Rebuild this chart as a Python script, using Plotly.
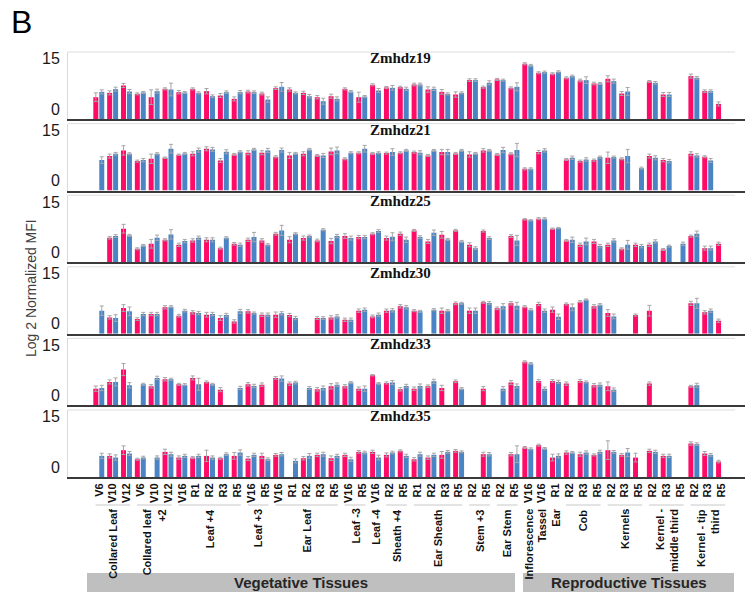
import plotly.graph_objects as go

# ---- categories -------------------------------------------------------------
stages = ["V6", "V10", "V12", "V6", "V10", "V12",
          "V16", "R1", "R2", "R3", "R5", "V16", "R5",
          "V16", "R1", "R2", "R3", "R5", "V16", "R5", "V16",
          "R2", "R5", "R1", "R2", "R3", "R5", "R2", "R5", "R2", "R5",
          "V16", "V16", "R1", "R2", "R3", "R5", "R2", "R3", "R5",
          "R2", "R3", "R5", "R2", "R3", "R5"]

# tissue groups: (label, first index, last index)
tissues = [("Collared Leaf", 0, 2), ("Collared leaf<br>+2", 3, 5),
           ("Leaf +4", 6, 10), ("Leaf +3", 11, 12), ("Ear Leaf", 13, 17),
           ("Leaf -3", 18, 19), ("Leaf -4", 20, 20), ("Sheath +4", 21, 22),
           ("Ear Sheath", 23, 26), ("Stem +3", 27, 28), ("Ear Stem", 29, 30),
           ("Inflorescence", 31, 31), ("Tassel", 32, 32), ("Ear", 33, 33),
           ("Cob", 34, 36), ("Kernels", 37, 39),
           ("Kernel -<br>middle third", 40, 42), ("Kernel - tip<br>third", 43, 45)]

genes = ["Zmhdz19", "Zmhdz21", "Zmhdz25", "Zmhdz30", "Zmhdz33", "Zmhdz35"]
N = None

# ---- log2 normalized MFI, series A (pink) and B (blue) ----------------------
zmhdz19_a = [6.5, 7.8, 10.0, 7.5, 6.5, 9.0, 8.0, 9.0, 8.3, 7.0, 6.0, 8.2, 7.6, 9.2, 8.8, 7.8,
             6.5, 6.8, 9.0, 6.5, 10.2, 9.4, 9.5, 10.3, 8.8, 8.1, 7.3, 11.6, 9.5, 11.8, 9.3,
             16.5, 13.8, 13.5, 12.3, 11.5, 10.6, 12.0, 7.6, N, 11.2, 7.3, N, 12.8, 8.3, 4.5]
zmhdz19_b = [8.1, 8.9, 8.2, 7.9, 8.3, 8.8, 7.9, 7.8, 6.8, 8.0, 8.0, 8.0, 5.8, 9.6, 7.8, 6.8,
             5.3, 6.0, 8.2, 6.7, 8.5, 9.3, 9.0, 10.3, 9.0, 7.5, 7.8, 11.6, 10.8, 11.6, 9.6,
             16.0, 14.0, 14.1, 12.8, 11.6, 10.6, 11.3, 8.2, N, 10.8, 7.3, N, 12.3, 8.3, N]

zmhdz21_a = [N, 10.3, 12.0, 8.8, 9.5, 9.8, 10.7, 11.0, 12.5, 9.0, 10.8, 11.3, 11.3, 10.1, 10.5, 11.0,
             10.5, 11.7, 9.5, 11.3, 11.1, 11.2, 11.3, 11.5, 10.5, 11.5, 11.1, 10.8, 12.0, 10.8, 11.0,
             6.5, 11.5, N, 9.3, 8.8, 9.1, 9.8, 9.5, N, 10.3, 9.1, N, 11.0, 10.1, N]
zmhdz21_b = [9.1, 11.0, 11.0, 9.1, 11.0, 12.5, 11.1, 12.1, 12.3, 11.6, 11.6, 12.3, 12.0, 12.1, 11.1, 12.3,
             10.5, 12.0, 11.3, 12.5, 11.3, 11.5, 12.0, 11.3, 12.0, 11.5, 12.0, 11.1, 12.0, 12.1, 12.1,
             6.5, 12.0, N, 9.8, 9.3, 10.0, 10.0, 10.3, 6.7, 9.8, 8.8, N, 10.5, 9.0, N]

zmhdz25_a = [N, 7.3, 10.0, 4.0, 5.5, 6.7, 5.2, 6.5, 6.7, 4.2, 5.5, 6.7, 6.5, 8.5, 6.7, 7.2,
             6.5, 6.3, 7.8, 7.5, 8.5, 7.2, 8.5, 9.5, 6.2, 8.2, 9.5, 5.2, 9.3, N, 7.8,
             12.8, 13.0, 10.0, 6.5, 5.2, 6.2, 5.2, 4.0, 5.2, 5.2, 3.8, N, 7.8, 4.2, 5.5]
zmhdz25_b = [N, 7.8, 8.0, 5.0, 7.3, 8.3, 6.3, 7.3, 6.7, 7.3, 5.2, 7.5, 5.2, 9.5, 8.5, 7.8,
             9.7, 7.8, 7.2, 7.5, 9.3, 7.6, 6.7, 7.5, 8.8, 6.8, 6.2, 4.2, 7.2, N, 6.5,
             12.5, 13.0, 10.2, 6.7, 6.2, 4.8, 6.5, 5.2, 4.8, 6.2, 4.8, 5.5, 8.5, 4.2, N]

zmhdz30_a = [N, 4.9, 7.7, 4.4, 5.9, 7.9, 5.4, 6.4, 5.7, 4.7, 3.7, 6.7, 5.7, 5.7, 5.6, N,
             4.7, 4.9, 4.2, 6.9, 5.2, 6.9, 8.2, 6.9, N, 6.9, 9.1, 6.9, 9.4, 7.6, 9.1,
             8.1, 8.9, 7.2, 8.9, 9.6, 8.2, 6.2, N, 5.6, 6.9, N, N, 9.1, 6.4, 3.9]
zmhdz30_b = [6.9, 4.7, 6.7, 5.9, 5.9, 8.1, 6.9, 6.2, 5.9, 5.6, 6.7, 6.2, 5.7, 6.1, 4.7, N,
             4.7, 5.2, 4.2, 7.2, 5.7, 7.0, 7.9, 6.7, 7.2, 6.9, 9.1, 6.9, 9.2, 8.2, 8.4,
             7.2, 6.9, 5.1, 7.9, 10.2, 8.7, 5.2, N, N, N, N, N, 9.1, 6.9, N]

zmhdz33_a = [5.0, 7.0, 10.7, N, 5.7, 7.8, 6.3, 8.2, 7.0, 4.7, N, 6.3, 6.2, 8.2, 6.5, N,
             4.8, 5.7, 5.7, 5.0, 9.0, 6.7, 4.8, 5.0, 5.7, 5.2, 7.2, N, 5.0, N, 6.8,
             13.0, 7.3, 7.3, 6.5, 7.3, 6.0, 5.7, N, N, 6.5, N, N, 5.7, N, N]
zmhdz33_b = [5.2, 7.0, 6.0, 6.3, 8.2, 7.8, 6.2, 6.3, 6.3, N, 5.2, 5.8, N, 8.0, 6.8, 5.2,
             5.2, 6.2, 6.8, 5.0, 6.5, 6.8, 5.8, 5.8, 7.2, N, 5.0, N, N, 5.0, 5.8,
             12.5, 5.0, 7.0, N, 7.0, 6.2, 4.7, N, N, N, N, N, 6.0, N, N]

zmhdz35_a = [N, 6.3, 8.0, 5.3, N, 7.5, 5.8, 5.8, 6.3, 5.6, 6.3, 5.5, 6.3, 6.6, N, 5.6,
             6.6, 5.6, 6.6, 7.5, 7.5, 6.6, 7.8, 5.3, 5.8, 6.6, 7.8, N, 6.8, N, 6.8,
             8.8, 9.5, 5.8, 7.3, 6.8, 6.6, 8.0, 6.6, 5.8, 7.8, 6.3, N, 10.0, 7.0, 4.6]
zmhdz35_b = [6.3, 5.8, 7.0, 5.8, 5.8, 6.8, 6.3, 6.3, 5.8, 6.8, 7.3, 6.6, 5.3, 6.8, 4.8, 6.3,
             6.8, 6.3, 5.3, 7.3, 5.8, 7.3, 6.3, 6.8, 6.6, 7.5, 7.5, N, 6.8, N, 6.8,
             8.4, 8.5, 6.3, 7.3, 7.3, 7.5, 7.5, 7.3, N, 7.5, 6.3, N, 9.8, 6.6, N]

# ---- error (same units) -------------------------------------------------------
zmhdz19_a_err = [1.3, 0.6, 0.6, 0.3, 2.2, 0.3, 0.5, 0.3, 0.8, 0.6, 0.6, 0.4, 0.4, 0.4, 0.5, 0.5,
                 0.5, 0.6, 0.3, 1.5, 0.3, 0.3, 0.3, 0.4, 0.8, 0.7, 0.8, 0.4, 0.3, 0.3, 0.3,
                 0.3, 0.3, 0.3, 0.3, 0.4, 0.4, 0.9, 0.6, N, 0.3, 0.6, N, 0.6, 0.4, 0.6]
zmhdz19_b_err = [0.6, 0.6, 0.6, 0.3, 0.6, 1.9, 0.3, 0.3, 0.4, 0.4, 0.5, 0.4, 0.8, 1.3, 0.3, 0.5,
                 0.9, 0.6, 0.3, 0.3, 0.6, 0.7, 0.5, 0.4, 0.5, 0.3, 0.3, 0.4, 0.6, 0.3, 1.2,
                 0.3, 0.3, 0.3, 0.3, 1.0, 0.3, 0.6, 1.2, N, 0.4, 0.6, N, 0.4, 0.4, N]
zmhdz21_a_err = [N, 0.6, 1.4, 0.3, 1.4, 0.2, 0.2, 0.6, 0.6, 0.6, 0.3, 0.6, 0.6, 0.3, 0.9, 0.6,
                 0.3, 1.0, 0.3, 0.3, 0.3, 0.3, 0.3, 0.3, 0.3, 0.8, 0.3, 0.8, 0.5, 0.3, 0.3,
                 0.3, 0.5, N, 0.3, 0.3, 0.3, 1.7, 0.3, N, 0.6, 0.5, N, 0.6, 0.3, N]
zmhdz21_b_err = [1.0, 0.4, 0.3, 0.5, 0.3, 1.3, 0.3, 0.6, 0.6, 0.6, 0.3, 0.3, 0.6, 0.6, 0.3, 0.3,
                 0.6, 1.0, 0.3, 1.0, 0.3, 1.0, 0.3, 0.6, 0.3, 0.8, 0.3, 0.3, 0.3, 0.8, 2.0,
                 0.3, 0.5, N, 0.5, 0.5, 0.3, 0.3, 2.0, 0.3, 0.6, 0.5, N, 0.5, 0.6, N]
zmhdz25_a_err = [N, 0.4, 1.3, 0.3, 1.3, 0.3, 0.5, 0.5, 0.6, 0.3, 0.4, 0.5, 0.5, 0.4, 0.9, 0.6,
                 0.4, 0.8, 0.7, 0.5, 0.3, 0.6, 0.5, 0.3, 0.6, 1.0, 0.3, 0.6, 0.3, N, 0.4,
                 0.2, 0.3, 0.2, 0.3, 0.5, 0.6, 0.5, 0.3, 0.5, 0.5, 0.3, N, 0.3, 0.6, 0.5]
zmhdz25_b_err = [N, 0.4, 0.3, 0.3, 0.8, 1.4, 0.5, 0.5, 0.6, 0.3, 0.5, 1.4, 0.3, 1.5, 0.3, 0.3,
                 0.3, 0.5, 0.6, 0.5, 0.4, 1.2, 0.8, 0.4, 0.8, 0.3, 0.3, 0.4, 0.4, N, 1.5,
                 0.2, 0.3, 0.2, 0.8, 1.0, 0.5, 0.5, 1.3, 0.5, 0.5, 0.3, 0.5, 0.8, 0.6, N]
zmhdz30_a_err = [N, 0.5, 1.0, 0.4, 0.5, 0.5, 0.4, 0.5, 0.7, 0.7, 0.5, 0.5, 0.5, 0.8, 0.5, N,
                 0.4, 0.5, 0.5, 0.5, 0.4, 0.5, 0.5, 0.3, N, 0.8, 0.4, 0.8, 0.3, 0.4, 0.5,
                 0.3, 0.5, 0.8, 0.3, 0.3, 0.5, 1.0, N, 0.3, 1.6, N, N, 0.6, 0.5, 0.5]
zmhdz30_b_err = [1.4, 1.0, 1.3, 0.5, 0.5, 0.3, 0.4, 0.5, 0.5, 0.5, 0.6, 0.3, 0.5, 0.5, 0.5, N,
                 0.4, 0.5, 0.5, 0.5, 0.5, 0.5, 0.5, 0.3, 0.3, 0.3, 0.3, 0.8, 0.4, 0.8, 1.0,
                 0.3, 0.5, 0.8, 1.0, 0.2, 0.3, 0.7, N, N, N, N, N, 1.5, 0.5, N]
zmhdz33_a_err = [0.8, 0.6, 1.8, N, 0.5, 0.5, 0.3, 0.6, 0.3, 0.6, N, 0.5, 0.5, 0.4, 0.5, N,
                 0.5, 0.8, 0.5, 0.5, 0.2, 0.3, 0.5, 0.5, 0.4, 0.8, 0.4, N, 0.6, N, 0.6,
                 0.3, 0.4, 0.4, 0.5, 0.4, 0.5, 1.3, N, N, 0.5, N, N, 0.3, N, N]
zmhdz33_b_err = [0.8, 1.2, 0.8, 0.3, 0.5, 0.3, 0.3, 1.8, 0.3, N, 0.5, 0.5, N, 0.8, 0.4, 0.4,
                 0.6, 0.5, 0.3, 0.8, 0.3, 0.6, 0.5, 0.6, 0.6, N, 0.3, N, N, 0.6, 0.6,
                 0.3, 0.5, 0.5, N, 0.3, 0.5, 0.5, N, N, N, N, N, 0.6, N, N]
zmhdz35_a_err = [N, 0.6, 1.3, 0.3, N, 0.8, 0.5, 0.3, 1.7, 0.3, 1.0, 0.6, 0.8, 0.4, N, 0.5,
                 0.5, 0.7, 0.5, 0.4, 0.5, 0.6, 0.3, 0.5, 0.5, 1.0, 0.4, N, 0.6, N, 0.5,
                 0.3, 0.3, 1.0, 0.5, 0.6, 0.3, 2.8, 0.4, 1.3, 0.5, 0.5, N, 0.5, 0.6, 0.4]
zmhdz35_b_err = [0.8, 0.8, 0.6, 0.4, 0.5, 0.6, 0.5, 0.5, 0.5, 0.4, 0.8, 0.5, 0.4, 0.5, 0.6, 0.7,
                 0.6, 0.5, 0.6, 0.4, 0.7, 0.4, 0.5, 0.6, 0.5, 0.4, 0.3, N, 0.5, N, 2.5,
                 0.3, 0.3, 0.6, 0.3, 0.5, 0.5, 0.4, 1.2, N, 0.5, 0.5, N, 0.4, 0.4, N]

series_a = [zmhdz19_a, zmhdz21_a, zmhdz25_a, zmhdz30_a, zmhdz33_a, zmhdz35_a]
series_b = [zmhdz19_b, zmhdz21_b, zmhdz25_b, zmhdz30_b, zmhdz33_b, zmhdz35_b]
errors_a = [zmhdz19_a_err, zmhdz21_a_err, zmhdz25_a_err, zmhdz30_a_err, zmhdz33_a_err, zmhdz35_a_err]
errors_b = [zmhdz19_b_err, zmhdz21_b_err, zmhdz25_b_err, zmhdz30_b_err, zmhdz33_b_err, zmhdz35_b_err]

# ---- layout geometry (pixels) ------------------------------------------------
W, H = 745, 595
L, R, T, B = 68, 0, 52, 118
PW, PH = W - L - R, H - T - B
PINK, BLUE = "#FF0A66", "#4A84C4"
ERR = "#A6A6A6"
FONT = "Arial, Liberation Sans, sans-serif"
X_RANGE = [-2.24, 46.68]


def py(p):
    """pixel row -> paper y"""
    return (H - B - p) / PH


def px(p):
    """pixel column -> paper x"""
    return (p - L) / PW


xs = list(range(len(stages)))
fig = go.Figure()
layout = {}
shapes = []
annotations = []

for k, gene in enumerate(genes):
    n = k + 1
    xa, ya = f"x{n}" if n > 1 else "x", f"y{n}" if n > 1 else "y"
    base = 119 + 71.6 * k
    dom = [max(0.0, py(base)), min(1.0, py(base - 67))]
    for vals, errs, color, off in ((series_a[k], errors_a[k], PINK, -0.41),
                                   (series_b[k], errors_b[k], BLUE, 0.02)):
        fig.add_trace(go.Bar(
            x=xs, y=vals, width=0.36, offset=off, xaxis=xa, yaxis=ya,
            marker=dict(color=color, line=dict(width=0)),
            error_y=dict(type="data", array=errs, color=ERR, thickness=1, width=2),
            showlegend=False, hoverinfo="x+y"))

    last = (k == len(genes) - 1)
    layout[f"xaxis{n}" if n > 1 else "xaxis"] = dict(
        domain=[0, 1], anchor=ya, range=X_RANGE, showgrid=False, zeroline=False,
        showline=True, linecolor="#3A3A3A", linewidth=2, ticks="",
        tickmode="array", tickvals=xs, ticktext=stages, showticklabels=last,
        tickangle=-90, tickfont=dict(family=FONT, size=11, color="#111", weight="bold"))
    layout[f"yaxis{n}" if n > 1 else "yaxis"] = dict(
        domain=dom, anchor=xa, range=[0, 20], showgrid=False, zeroline=False,
        showline=True, linecolor="#D9D9D9", linewidth=1, ticks="",
        tickmode="array", tickvals=[0, 15], ticktext=["0", "15"],
        ticklabelshift=-10, ticklabelstandoff=4,
        tickfont=dict(family=FONT, size=16, color="#1A1A1A"))

    # light frame line along the top of each panel
    shapes.append(dict(type="line", xref="paper", yref="paper", x0=0, x1=px(735),
                       y0=dom[1], y1=dom[1], line=dict(color="#DDDDDD", width=1)))
    annotations.append(dict(text=f"<b>{gene}</b>", xref="paper", yref="paper",
                            x=px(400), y=py(base - 61), showarrow=False,
                            xanchor="center", yanchor="middle",
                            font=dict(family="Times New Roman, Liberation Serif, serif",
                                      size=15, color="#111")))

# tissue labels and brackets under the bottom axis
for label, i0, i1 in tissues:
    annotations.append(dict(text=f"<b>{label}</b>", xref="x6", yref="paper",
                            x=(i0 + i1) / 2, y=py(507), textangle=-90,
                            showarrow=False, xanchor="center", yanchor="top",
                            align="right",
                            font=dict(family=FONT, size=11, color="#111")))
    if i1 > i0:
        shapes.append(dict(type="line", xref="x6", yref="paper",
                           x0=i0 - 0.25, x1=i1 + 0.25, y0=py(505), y1=py(505),
                           line=dict(color="#C8C8C8", width=1)))

# tissue class bands
for label, x0, x1 in (("Vegetative Tissues", 87, 515), ("Reproductive Tissues", 523, 734)):
    shapes.append(dict(type="rect", xref="paper", yref="paper",
                       x0=px(x0), x1=px(x1), y0=py(592), y1=py(573),
                       fillcolor="#BFBFBF", line=dict(width=0)))
    annotations.append(dict(text=f"<b>{label}</b>", xref="paper", yref="paper",
                            x=px((x0 + x1) / 2), y=py(582.5), showarrow=False,
                            xanchor="center", yanchor="middle",
                            font=dict(family=FONT, size=15, color="#262626")))

annotations.append(dict(text="Log 2 Normalized MFI", xref="paper", yref="paper",
                        x=px(31), y=py(288), textangle=-90, showarrow=False,
                        xanchor="center", yanchor="middle",
                        font=dict(family=FONT, size=14, color="#404040")))
annotations.append(dict(text="B", xref="paper", yref="paper", x=px(21), y=py(22),
                        showarrow=False, xanchor="center", yanchor="middle",
                        font=dict(family=FONT, size=32, color="#000")))

fig.update_layout(
    width=W, height=H, margin=dict(l=L, r=R, t=T, b=B),
    paper_bgcolor="white", plot_bgcolor="white",
    barmode="overlay", shapes=shapes, annotations=annotations, **layout)

fig.write_html("out.html")
